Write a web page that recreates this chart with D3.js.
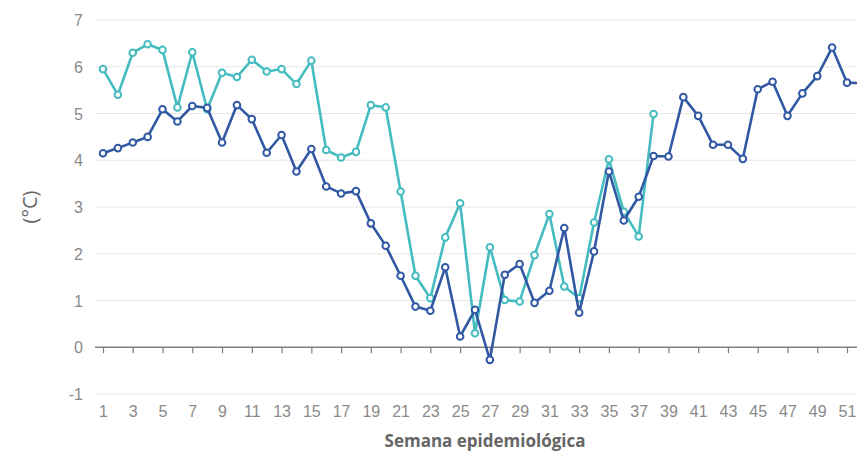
<!DOCTYPE html>
<html>
<head>
<meta charset="utf-8">
<script src="https://cdn.jsdelivr.net/npm/d3@7"></script>
<style>
  html, body { margin: 0; padding: 0; background: #fff; }
  svg { display: block; font-family: "Open Sans", "Noto Sans", sans-serif; }
</style>
</head>
<body>
<svg id="chart" width="857" height="455"></svg>
<script>
const weeks = d3.range(1, 53);
const xTickWeeks = d3.range(1, 53, 2);
const yTicks = [-1, 0, 1, 2, 3, 4, 5, 6, 7];

const seriesLight = [5.95, 5.40, 6.30, 6.48, 6.36, 5.13, 6.31, 5.09, 5.87, 5.78,
  6.15, 5.90, 5.95, 5.63, 6.13, 4.22, 4.06, 4.18, 5.18, 5.13,
  3.33, 1.53, 1.05, 2.35, 3.08, 0.30, 2.14, 1.01, 0.98, 1.97,
  2.85, 1.30, 1.05, 2.67, 4.02, 2.90, 2.37, 4.99];

const seriesDark = [4.15, 4.26, 4.38, 4.50, 5.09, 4.83, 5.16, 5.12, 4.38, 5.18,
  4.88, 4.16, 4.54, 3.76, 4.24, 3.44, 3.29, 3.34, 2.65, 2.17,
  1.53, 0.87, 0.78, 1.71, 0.23, 0.80, -0.27, 1.55, 1.78, 0.95,
  1.21, 2.55, 0.74, 2.05, 3.76, 2.71, 3.22, 4.09, 4.08, 5.35,
  4.95, 4.33, 4.33, 4.03, 5.52, 5.68, 4.95, 5.43, 5.80, 6.41,
  5.66, 5.65];

const xTitle = "Semana epidemiológica";
const yTitle = "(°C)";

const svg = d3.select("#chart");
const plotLeft = 95, plotRight = 872;
const x = d3.scalePoint().domain(weeks).range([103, 103 + 51 * 14.88]);
const y = d3.scaleLinear().domain([-1, 7]).range([394, 20]);

// grid lines
svg.append("g").selectAll("line").data(yTicks.filter(d => d !== 0)).join("line")
  .attr("x1", plotLeft).attr("x2", plotRight)
  .attr("y1", d => y(d)).attr("y2", d => y(d))
  .attr("stroke", "#e6e6e6").attr("stroke-width", 1);

// y axis labels
const yAxis = d3.axisLeft(y).tickValues(yTicks).tickSize(0).tickPadding(0).tickFormat(d => String(d));
const gy = svg.append("g").attr("transform", `translate(83,0)`).call(yAxis);
gy.select(".domain").remove();
gy.selectAll("text").attr("fill", "#8a8a8a").style("font-size", "16px").attr("dy", "0.35em");

// x axis at zero
const xAxis = d3.axisBottom(x).tickValues(xTickWeeks).tickSize(6).tickSizeOuter(0).tickPadding(0);
const gx = svg.append("g").attr("transform", `translate(0,${y(0)})`).call(xAxis);
gx.select(".domain").attr("d", `M${plotLeft},0H${plotRight}`).attr("stroke", "#7f7f7f").attr("stroke-width", 1.3);
gx.selectAll(".tick line").attr("stroke", "#7f7f7f").attr("stroke-width", 1.2);
gx.selectAll("text")
  .attr("y", y(-1) - y(0) + 23)
  .attr("dy", 0)
  .attr("fill", "#8a8a8a").style("font-size", "16px");

// axis titles
svg.append("text")
  .attr("x", 485).attr("y", 447)
  .attr("text-anchor", "middle")
  .attr("fill", "#666").style("font-size", "17px").style("font-weight", "bold")
  .text(xTitle);

svg.append("text")
  .attr("transform", "translate(37,207) rotate(-90)")
  .attr("text-anchor", "middle")
  .attr("fill", "#666").style("font-size", "20px")
  .text(yTitle);

const series = [
  { values: seriesLight, color: "#45bcc0" },
  { values: seriesDark, color: "#3159a3" }
];

const line = d3.line().x(d => x(d.w)).y(d => y(d.v));

series.forEach(s => {
  const pts = s.values.map((v, i) => ({ w: weeks[i], v }));
  const g = svg.append("g");
  g.append("path").datum(pts)
    .attr("d", line)
    .attr("fill", "none")
    .attr("stroke", s.color)
    .attr("stroke-width", 2.6)
    .attr("stroke-linejoin", "round");
  g.selectAll("circle").data(pts).join("circle")
    .attr("cx", d => x(d.w)).attr("cy", d => y(d.v))
    .attr("r", 3.3)
    .attr("fill", "#fff")
    .attr("stroke", s.color)
    .attr("stroke-width", 2);
});
</script>
</body>
</html>
